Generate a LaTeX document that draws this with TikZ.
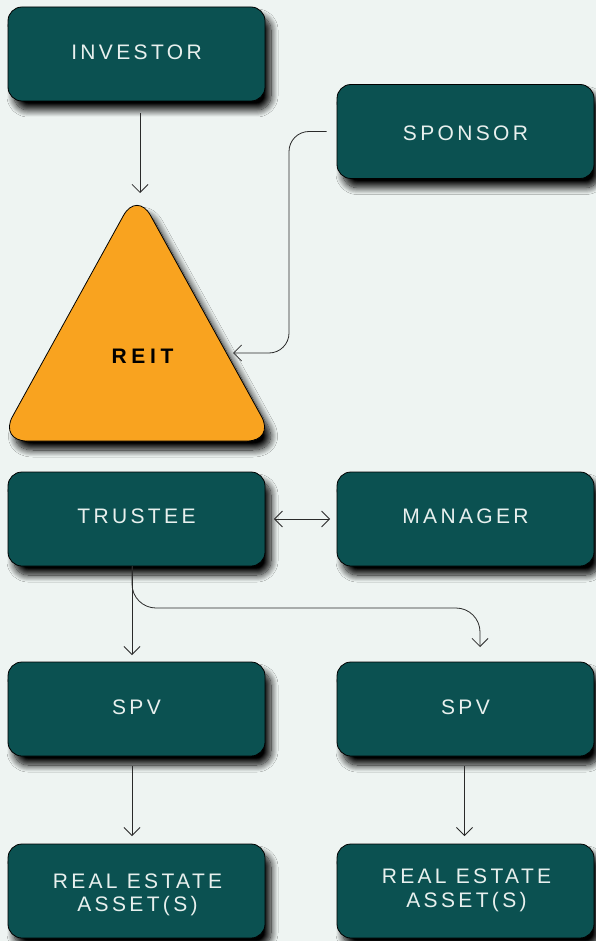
\documentclass[tikz,border=0pt]{standalone}
\usepackage{fontspec}
\setmainfont{Liberation Sans}
\newfontfamily\boxfont[LetterSpace=16]{Liberation Sans}
\newfontfamily\reitfont[LetterSpace=22]{Liberation Sans}
\usetikzlibrary{arrows.meta,shadows.blur}
\definecolor{bgcol}{HTML}{EEF4F2}
\definecolor{boxteal}{HTML}{0B5151}
\definecolor{orng}{HTML}{F9A31F}
\definecolor{txtcol}{HTML}{E8F0EE}
\definecolor{linecol}{HTML}{2A2A2A}
\tikzset{
  shad/.style={blur shadow={shadow xshift=6pt, shadow yshift=-9pt, shadow blur radius=7pt, shadow blur steps=14, shadow opacity=100}},
  boxnode/.style={shad, draw=black, line width=0.8pt, fill=boxteal, rounded corners=14pt,
    minimum width=257pt, minimum height=94pt, inner sep=0pt, text=txtcol,
    font=\boxfont\fontsize{21}{23.5}\selectfont, align=center, text height=15pt},
  boxlabel/.style={text=txtcol, font=\boxfont\fontsize{21}{23.5}\selectfont, align=center, inner sep=0pt},
  conn/.style={draw=linecol, line width=0.8pt, -{Straight Barb[length=8pt,width=16pt]}},
  dconn/.style={draw=linecol, line width=0.8pt, {Straight Barb[length=8pt,width=16pt]}-{Straight Barb[length=8pt,width=16pt]}}
}
\begin{document}
\begin{tikzpicture}[x=1pt,y=-1pt]
\path[use as bounding box, fill=bgcol] (0,0) rectangle (596,941);

% boxes
\node[boxnode, text depth=4pt] (inv) at (136.5,54) {INVESTOR};
\node[boxnode, text height=18pt, text depth=0pt] (spon) at (465.5,131.5) {SPONSOR};
\node[boxnode, text depth=6pt] (trus) at (136.5,519) {TRUSTEE};
\node[boxnode, text depth=6pt] (mgr) at (465.5,519) {MANAGER};
\node[boxnode, text depth=4pt] (spv1) at (136.5,709) {SPV};
\node[boxnode, text depth=4pt] (spv2) at (465.5,709) {SPV};
\node[boxnode, text depth=0pt] (ast1) at (136.5,891) {};
\node[boxnode, text depth=0pt] (ast2) at (465.5,891) {};
\node[boxlabel] (ast1t) at (137.5,895) {REAL ESTATE\\ASSET(S)};
\node[boxlabel] (ast2t) at (466.5,890.5) {REAL ESTATE\\ASSET(S)};

% triangle
\draw[shad, draw=black, line width=0.8pt, fill=orng, rounded corners=28pt]
  (137,191) -- (275,441) -- (-1,441) -- cycle;
\node[font=\reitfont\bfseries\fontsize{21}{23}\selectfont, text=black, inner sep=0pt] (reit) at (142.5,356) {REIT};

% connector end points
\coordinate (reitTop) at (140,193);
\coordinate (reitR) at (233,353);
\coordinate (spv1top) at (132,655);
\coordinate (spv2top) at (480,647);
\coordinate (ast1top) at (132,836);
\coordinate (ast2top) at (464.5,836);

% connectors
\draw[conn, shorten <=12pt] (inv.south -| reitTop) -- (reitTop);
\draw[conn, shorten <=10pt, rounded corners=20pt] (spon.west) -- (289,131.5) -- (289,353) -- (reitR);
\draw[dconn, shorten <=8.5pt, shorten >=6.5pt] (trus.east) -- (mgr.west);
\draw[conn] (trus.south -| spv1top) -- (spv1top);
\draw[conn] (trus.south -| spv1top) [rounded corners=24pt] -- (132,608) -- (480,608) [rounded corners=13pt] -- (spv2top);
\draw[conn, shorten <=10pt] (spv1.south -| ast1top) -- (ast1top);
\draw[conn, shorten <=10pt] (spv2.south -| ast2top) -- (ast2top);
\end{tikzpicture}
\end{document}
